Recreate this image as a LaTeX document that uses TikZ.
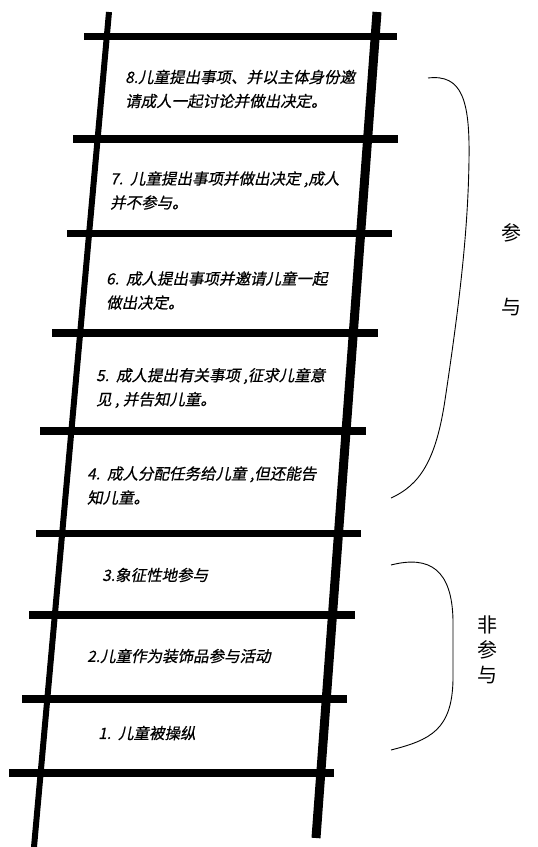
\documentclass[tikz,border=0pt]{standalone}
\usepackage{fontspec}
\newfontfamily\cjkup{Noto Sans CJK SC}
\newfontfamily\cjkit[FakeSlant=0.2, FakeBold=0.6]{Noto Sans CJK SC}

\begin{document}
\begin{tikzpicture}[
    x=1pt, y=-1pt,
    rail/.style={line width=6pt},
    rung/.style={line width=7.5pt},
    item/.style={anchor=west, inner sep=0pt, align=left, font=\cjkit\fontsize{15.5}{24}\selectfont},
    side/.style={inner sep=0pt, align=center, font=\cjkup\fontsize{20}{25}\selectfont},
    brace/.style={line width=0.9pt}
]
\useasboundingbox (0,0) rectangle (538,847);

\draw[rail] (109,12) -- (34,847);
\draw[rail, line width=9pt] (377,12) -- (316,838);

\draw[rung] (84,36.5) -- (397,36.5);
\draw[rung] (73,139) -- (398,139);
\draw[rung] (67,233.5) -- (392,233.5);
\draw[rung] (52,333) -- (378,333);
\draw[rung] (40,431) -- (366,431);
\draw[rung] (36,533.5) -- (361,533.5);
\draw[rung] (29,615) -- (355,615);
\draw[rung] (22,699) -- (347,699);
\draw[rung] (9,773) -- (334,773);

\node[item] (lvl8) at (125,89) {8.儿童提出事项、并以主体身份邀\\请成人一起讨论并做出决定。};
\node[item] (lvl7) at (110,190.5) {7.\ \ 儿童提出事项并做出决定 ,成人\\并不参与。};
\node[item] (lvl6) at (106,290.5) {6.\ \ 成人提出事项并邀请儿童一起\\做出决定。};
\node[item] (lvl5) at (96,388) {5.\ \ 成人提出有关事项 ,征求儿童意\\见 , 并告知儿童。};
\node[item] (lvl4) at (87,485.5) {4.\ \ 成人分配任务给儿童 ,但还能告\\知儿童。};
\node[item] (lvl3) at (102,575) {3.象征性地参与};
\node[item] (lvl2) at (87,656) {2.儿童作为装饰品参与活动};
\node[item] (lvl1) at (98,733) {1.\ \ 儿童被操纵};

\draw[brace] (428,78) .. controls (462,74) and (470,100) .. (469,160)
    .. controls (468,230) and (460,300) .. (445,400)
    .. controls (436,460) and (420,485) .. (391,498);
\draw[brace] (391,565) .. controls (430,555) and (452,570) .. (453,620)
    -- (453,680) .. controls (452,730) and (430,740) .. (391,750);

\node[side] (upper1) at (511,233) {参};
\node[side] (upper2) at (511,307) {与};
\node[side] (lower) at (487,650) {非\\参\\与};

\end{tikzpicture}
\end{document}
